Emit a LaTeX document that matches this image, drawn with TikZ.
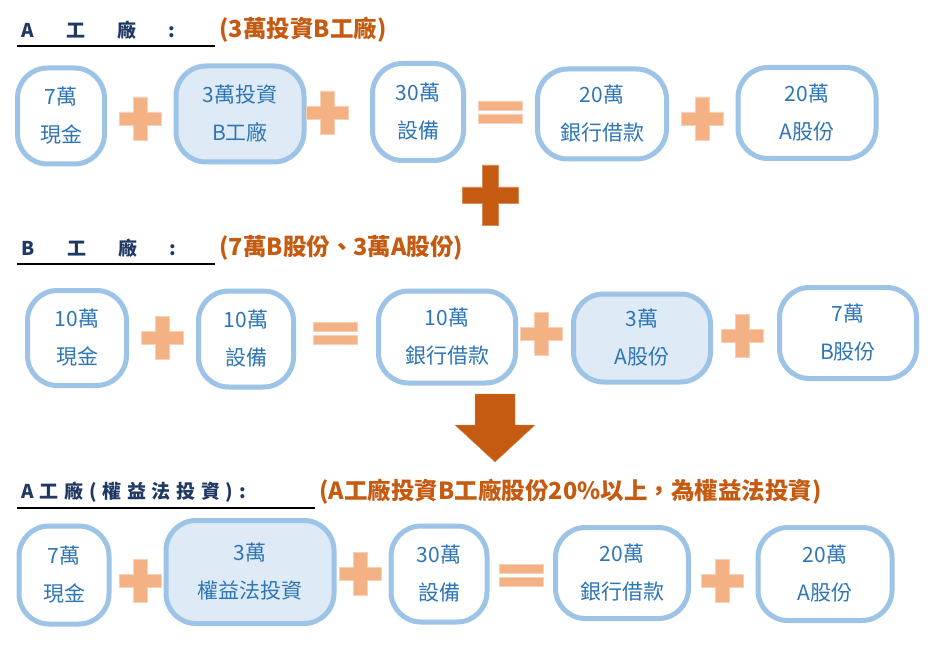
\documentclass[tikz,border=0pt]{standalone}
\usepackage{fontspec}
\setmainfont{Noto Sans CJK TC}
\usetikzlibrary{positioning}
\definecolor{rim}{HTML}{9DC3E6}
\definecolor{pale}{HTML}{DEEBF7}
\definecolor{ink}{HTML}{2E75B6}
\definecolor{navy}{HTML}{1F3864}
\definecolor{rust}{HTML}{C55A11}
\definecolor{peach}{HTML}{F4B183}
\tikzset{
  box/.style={draw=rim, line width=5pt, rounded corners=30pt, text=ink,
    align=center, font=\fontsize{21}{38}\selectfont, inner sep=0pt},
  title/.style={anchor=west, text=navy, font=\bfseries\fontsize{19}{21}\selectfont},
  note/.style={anchor=west, text=rust, font=\bfseries\fontsize{23.5}{25}\selectfont},
}
% w h x y
\newcommand{\acct}[7]{\node[box, minimum width=#2pt, minimum height=#3pt, fill=#6] (#1) at (#4,#5) {#7};}
\newcommand{\plus}[2]{\fill[peach, draw=peach!60] (#1-21,#2-6) -- ++(14,0) -- ++(0,-15) -- ++(14,0) -- ++(0,15) -- ++(14,0) -- ++(0,13) -- ++(-14,0) -- ++(0,15) -- ++(-14,0) -- ++(0,-15) -- ++(-14,0) -- cycle;}
\newcommand{\equ}[2]{\fill[peach, draw=peach!60] (#1-22,#2-11) rectangle ++(44,9) (#1-22,#2+2) rectangle ++(44,9);}
\begin{document}
\begin{tikzpicture}[x=1pt,y=-1pt]
\useasboundingbox (0,0) rectangle (940,647);

% A
\node[title] (ta) at (18,30) {A\hspace{1.7em}工\hspace{1.7em}廠\hspace{1.7em}:};
\draw[line width=1.2pt] (17,46) -- (215,46);
\node[note] (na) at (216,30) {(3萬投資B工廠)};
\acct{a1}{87}{96}{61}{116}{white}{7萬\\現金}
\acct{a2}{128}{96}{240}{114}{pale}{3萬投資\\B工廠}
\acct{a3}{91}{97}{418}{112}{white}{30萬\\設備}
\acct{a4}{129}{90}{602}{114}{white}{20萬\\銀行借款}
\acct{a5}{138}{91}{807}{113}{white}{20萬\\A股份}
\plus{140}{118}\plus{327}{112}\equ{500}{112}\plus{702}{118}
\fill[rust, draw=rust!70] (462,187) -- ++(20,0) -- ++(0,-22) -- ++(16,0) -- ++(0,22) -- ++(20,0) -- ++(0,16) -- ++(-20,0) -- ++(0,22) -- ++(-16,0) -- ++(0,-22) -- ++(-20,0) -- cycle;

% B
\node[title] (tb) at (18,248) {B\hspace{1.7em}工\hspace{1.7em}廠\hspace{1.7em}:};
\draw[line width=1.2pt] (17,264) -- (215,264);
\node[note] (nb) at (216,248) {(7萬B股份、3萬A股份)};
\acct{b1}{99}{95}{77}{338}{white}{10萬\\現金}
\acct{b2}{95}{96}{246}{339}{white}{10萬\\設備}
\acct{b3}{137}{92}{447}{337}{white}{10萬\\銀行借款}
\acct{b4}{137}{88}{642}{338}{pale}{3萬\\A股份}
\acct{b5}{137}{91}{848}{333}{white}{7萬\\B股份}
\plus{162}{337}\equ{335}{333}\plus{541}{333}\plus{742}{335}
\fill[rust, draw=rust!70] (475,394) -- (515,394) -- (515,425) -- (535,425) -- (495,462) -- (455,425) -- (475,425) -- cycle;

% A equity
\node[title] (tc) at (18,492) {A\hspace{0.3em}工\hspace{0.3em}廠\hspace{0.3em}(\hspace{0.3em}權\hspace{0.3em}益\hspace{0.3em}法\hspace{0.3em}投\hspace{0.3em}資\hspace{0.3em})\hspace{0.3em}:};
\draw[line width=1.2pt] (17,508) -- (315,508);
\node[note] (nc) at (316,492) {(A工廠投資B工廠股份20\%以上，為權益法投資)};
\acct{c1}{90}{98}{64}{575}{white}{7萬\\現金}
\acct{c2}{168}{103}{250}{572}{pale}{3萬\\權益法投資}
\acct{c3}{96}{96}{439}{574}{white}{30萬\\設備}
\acct{c4}{133}{91}{622}{573}{white}{20萬\\銀行借款}
\acct{c5}{134}{93}{825}{574}{white}{20萬\\A股份}
\plus{140}{580}\plus{360}{573}\equ{521}{575}\plus{722}{580}
\end{tikzpicture}
\end{document}
